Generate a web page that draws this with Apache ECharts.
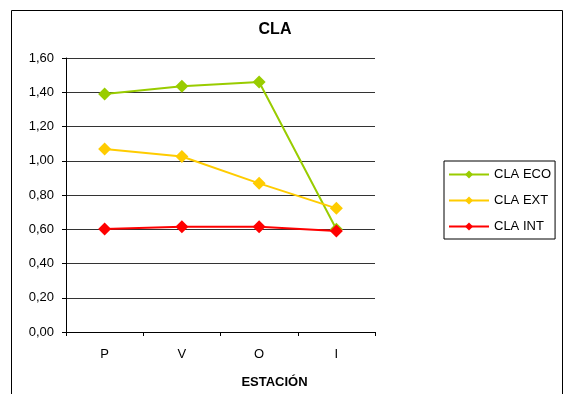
<!DOCTYPE html>
<html><head><meta charset="utf-8">
<script src="https://cdn.jsdelivr.net/npm/echarts@6/dist/echarts.min.js"></script>
<style>html,body{margin:0;padding:0;background:#fff}#c{width:563px;height:394px}</style>
</head><body><div id="c"></div>
<script>
const categories = ['P', 'V', 'O', 'I'];
const claEco = [1.39, 1.435, 1.46, 0.60];
const claExt = [1.068, 1.025, 0.868, 0.722];
const claInt = [0.602, 0.615, 0.615, 0.59];
const seriesNames = ['CLA ECO', 'CLA EXT', 'CLA INT'];
const colors = ['#99CC00', '#FFCC00', '#FF0000'];
const FONT = '"Liberation Sans", Arial, sans-serif';

const chart = echarts.init(document.getElementById('c'), null, {renderer: 'canvas'});
const mk = (name, data, color) => ({
  name, type: 'line', data, color,
  symbol: 'diamond', symbolSize: 13,
  lineStyle: {width: 2, color},
  itemStyle: {color},
  emphasis: {disabled: true},
  animation: false
});
chart.setOption({
  animation: false,
  title: {text: 'CLA', left: 270, top: 17, textAlign: 'center',
    textStyle: {fontFamily: FONT, fontSize: 16, fontWeight: 'bold', color: '#000'}},
  graphic: [{type: 'rect', shape: {x: 11.5, y: 10.5, width: 551, height: 400},
    style: {fill: 'none', stroke: '#000', lineWidth: 1}, z: 100}],
  grid: {left: 66, right: 188, top: 58, bottom: 61},
  legend: {
    orient: 'vertical', left: 444, top: 161,
    data: seriesNames,
    borderColor: '#000', borderWidth: 1, padding: [7, 4, 6, 4],
    itemWidth: 40, itemHeight: 10, itemGap: 13,
    textStyle: {fontFamily: FONT, fontSize: 13, color: '#000'}
  },
  xAxis: {
    type: 'category', data: categories, boundaryGap: true,
    name: 'ESTACIÓN', nameLocation: 'middle', nameGap: 44,
    nameTextStyle: {fontFamily: FONT, fontSize: 13, fontWeight: 'bold', color: '#000', padding: [0, 0, 0, 108]},
    axisLine: {lineStyle: {color: '#000', width: 1}},
    axisTick: {show: true, length: 4, lineStyle: {color: '#000'}},
    axisLabel: {fontFamily: FONT, fontSize: 13, color: '#000', margin: 16}
  },
  yAxis: {
    type: 'value', min: 0, max: 1.6, interval: 0.2,
    axisLine: {show: true, lineStyle: {color: '#000', width: 1}},
    axisTick: {show: true, length: 4, lineStyle: {color: '#000'}},
    axisLabel: {fontFamily: FONT, fontSize: 13, color: '#000', margin: 12,
      formatter: v => v.toFixed(2).replace('.', ',')},
    splitLine: {show: true, lineStyle: {color: '#333', width: 1}}
  },
  series: [mk(seriesNames[0], claEco, colors[0]), mk(seriesNames[1], claExt, colors[1]), mk(seriesNames[2], claInt, colors[2])]
});
</script></body></html>
